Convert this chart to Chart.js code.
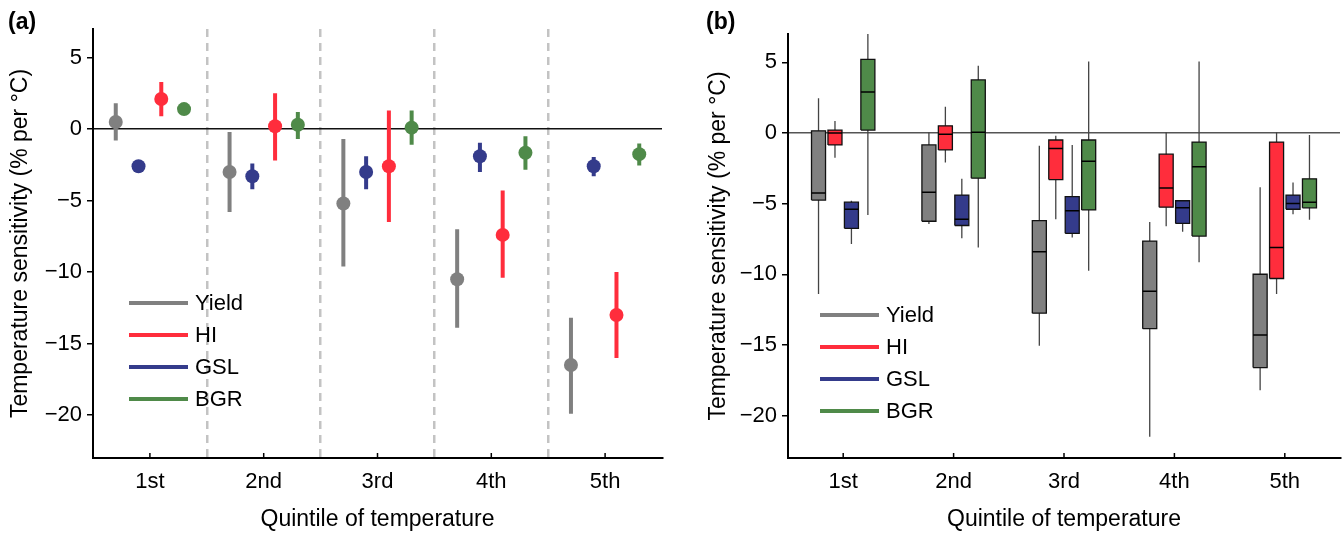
<!DOCTYPE html>
<html>
<head>
<meta charset="utf-8">
<script src="https://cdn.jsdelivr.net/npm/chart.js@4"></script>
<style>
  body { margin: 0; background: #fff; font-family: "Liberation Sans", Arial, sans-serif; }
  #wrap { position: relative; width: 1344px; height: 534px; }
  .pane { position: absolute; top: 0; width: 672px; height: 534px; }
  .tag { position: absolute; top: 8px; font-weight: bold; font-size: 23px; }
  .leg { position: absolute; font-size: 22px; }
  .leg .row { position: relative; height: 32px; }
  .leg .ln { position: absolute; left: 0; top: 14px; width: 59px; height: 4px; }
  .leg .tx { position: absolute; left: 66px; top: 2px; line-height: 28px; }
</style>
</head>
<body>
<div id="wrap">
  <div class="pane" style="left:0"><canvas id="chart-a"></canvas></div>
  <div class="pane" style="left:672px"><canvas id="chart-b"></canvas></div>
  <div class="tag" style="left:8px">(a)</div>
  <div class="tag" style="left:706px">(b)</div>
  <div class="leg" id="leg-a" style="left:129px;top:287px"></div>
  <div class="leg" id="leg-b" style="left:820px;top:299px"></div>
</div>
<script>
/* ── data ── */
var cats = ['1st', '2nd', '3rd', '4th', '5th'];
var series = ['Yield', 'HI', 'GSL', 'BGR'];
var yTicks = [-20, -15, -10, -5, 0, 5];

// (a) mean sensitivity and error bar ends
var yieldMean = [0.5, -3.0, -5.2, -10.5, -16.5];
var yieldLo   = [-0.8, -5.8, -9.6, -13.9, -19.9];
var yieldHi   = [1.8, -0.2, -0.7, -7.0, -13.2];
var hiMean = [2.1, 0.2, -2.6, -7.4, -13.0];
var hiLo   = [0.9, -2.2, -6.5, -10.4, -16.0];
var hiHi   = [3.3, 2.5, 1.3, -4.3, -10.0];
var gslMean = [-2.6, -3.3, -3.0, -1.9, -2.6];
var gslLo   = [-2.8, -4.2, -4.2, -3.0, -3.3];
var gslHi   = [-2.4, -2.4, -1.9, -0.95, -1.95];
var bgrMean = [1.4, 0.3, 0.1, -1.65, -1.75];
var bgrLo   = [1.1, -0.7, -1.1, -2.85, -2.55];
var bgrHi   = [1.7, 1.2, 1.3, -0.5, -1.0];

// (b) box plots: whisker min, lower quartile, median, upper quartile, whisker max
var yieldMin = [-11.4, -6.45, -15.05, -21.5, -18.2];
var yieldQ1  = [-4.75, -6.25, -12.75, -13.85, -16.6];
var yieldMed = [-4.25, -4.2, -8.4, -11.2, -14.3];
var yieldQ3  = [0.15, -0.85, -6.2, -7.65, -10.0];
var yieldMax = [2.45, 0.05, -0.9, -6.3, -3.85];

var hiMin = [-1.75, -2.1, -6.1, -6.6, -11.4];
var hiQ1  = [-0.85, -1.2, -3.3, -5.25, -10.3];
var hiMed = [0.0, -0.1, -1.1, -3.9, -8.1];
var hiQ3  = [0.2, 0.5, -0.5, -1.5, -0.65];
var hiMax = [0.85, 1.85, -0.2, 0.05, 0.05];

var gslMin = [-7.85, -7.45, -7.4, -7.0, -5.75];
var gslQ1  = [-6.75, -6.55, -7.1, -6.4, -5.4];
var gslMed = [-5.4, -6.1, -5.5, -5.3, -5.0];
var gslQ3  = [-4.9, -4.4, -4.5, -4.8, -4.4];
var gslMax = [-4.8, -3.25, -0.85, -4.75, -3.5];

var bgrMin = [-5.8, -8.1, -9.75, -9.15, -6.15];
var bgrQ1  = [0.2, -3.2, -5.45, -7.3, -5.3];
var bgrMed = [2.9, 0.05, -2.0, -2.4, -4.9];
var bgrQ3  = [5.2, 3.75, -0.5, -0.65, -3.25];
var bgrMax = [7.0, 4.75, 5.05, 5.05, -0.15];

/* ── styling ── */
var colors = { Yield: '#808080', HI: '#ff2d3c', GSL: '#343b8b', BGR: '#4f8a49' };
var offA = { Yield: -0.3, GSL: -0.1, HI: 0.1, BGR: 0.3 };
var slot = 0.149;              // distance between neighbouring boxes (category units)
var boxW = 0.127;              // box width (category units)
var offB = { Yield: -1.5 * slot, HI: -0.5 * slot, GSL: 0.5 * slot, BGR: 1.5 * slot };
var halfBox = boxW / 2;

var A = {
  Yield: { mean: yieldMean, lo: yieldLo, hi: yieldHi },
  HI:    { mean: hiMean, lo: hiLo, hi: hiHi },
  GSL:   { mean: gslMean, lo: gslLo, hi: gslHi },
  BGR:   { mean: bgrMean, lo: bgrLo, hi: bgrHi }
};
var B = {
  Yield: { min: yieldMin, q1: yieldQ1, med: yieldMed, q3: yieldQ3, max: yieldMax },
  HI:    { min: hiMin, q1: hiQ1, med: hiMed, q3: hiQ3, max: hiMax },
  GSL:   { min: gslMin, q1: gslQ1, med: gslMed, q3: gslQ3, max: gslMax },
  BGR:   { min: bgrMin, q1: bgrQ1, med: bgrMed, q3: bgrQ3, max: bgrMax }
};

var font22 = { family: '"Liberation Sans", Arial, sans-serif', size: 22 };
var font23 = { family: '"Liberation Sans", Arial, sans-serif', size: 23 };

function minus(v) { return String(v).replace('-', '\u2212'); }

// vertical segments separated by gaps
function segments(lo, hi, off) {
  var pts = [];
  lo.forEach(function (v, i) {
    pts.push({ x: i + off, y: v }, { x: i + off, y: hi[i] }, { x: i + off, y: null });
  });
  return pts;
}
function medians(med, off) {
  var pts = [];
  med.forEach(function (v, i) {
    pts.push({ x: i + off - halfBox, y: v }, { x: i + off + halfBox, y: v }, { x: i + off, y: null });
  });
  return pts;
}
function outlines(q1, q3, off) {
  var pts = [];
  q1.forEach(function (v, i) {
    var l = i + off - halfBox, r = i + off + halfBox;
    pts.push({ x: l, y: v }, { x: r, y: v }, { x: r, y: q3[i] }, { x: l, y: q3[i] }, { x: l, y: v }, { x: l, y: null });
  });
  return pts;
}
function boxPx(c) {
  var s = c.chart.scales.x;
  return Math.abs(s.getPixelForValue(boxW) - s.getPixelForValue(0)) || 1;
}

// small inward ticks on the x axis
var innerTicks = {
  id: 'innerTicks',
  afterDraw: function (chart) {
    var s = chart.scales.x, ctx = chart.ctx, b = chart.chartArea.bottom;
    ctx.save();
    ctx.strokeStyle = '#000';
    ctx.lineWidth = 1.5;
    cats.forEach(function (c, i) {
      var x = s.getPixelForValue(i);
      ctx.beginPath(); ctx.moveTo(x, b); ctx.lineTo(x, b - 5); ctx.stroke();
    });
    ctx.restore();
  }
};

function yScale(width, titlePad, zeroColor) {
  return {
    min: -23, max: 7,
    afterBuildTicks: function (s) { s.ticks = yTicks.map(function (v) { return { value: v }; }); },
    afterFit: function (s) { s.width = width; },
    ticks: { font: font22, color: '#000', padding: 5, callback: minus },
    grid: {
      color: function (c) { return c.tick && c.tick.value === 0 ? zeroColor : 'rgba(0,0,0,0)'; },
      lineWidth: 1.5, tickLength: 6, tickColor: '#000', tickWidth: 1.5
    },
    border: { color: '#000', width: 2 },
    title: { display: true, text: 'Temperature sensitivity (% per \u00b0C)', font: font23, color: '#000', padding: { top: titlePad, bottom: 0 } }
  };
}
function xScale(separators) {
  return {
    type: 'linear', min: -0.5, max: 4.5,
    afterBuildTicks: function (s) {
      var t = [];
      for (var v = -0.5; v <= 4.5; v += 0.5) t.push({ value: v });
      s.ticks = t;
    },
    afterFit: function (s) { s.height = 76; s.paddingLeft = 0; s.paddingRight = 0; },
    ticks: {
      autoSkip: false, maxRotation: 0, font: font22, color: '#000', padding: 11,
      callback: function (v) { return Number.isInteger(v) ? cats[v] : ''; }
    },
    grid: {
      display: separators, drawTicks: false, lineWidth: 2.5,
      color: function (c) {
        var v = c.tick ? c.tick.value : 0;
        return (v % 1 !== 0 && v > -0.5 && v < 4.5) ? '#c3c3c3' : 'rgba(0,0,0,0)';
      }
    },
    border: { color: '#000', width: 2, dash: [8, 6] },
    title: { display: true, text: 'Quintile of temperature', font: font23, color: '#000', padding: { top: 0, bottom: 1 } }
  };
}
function baseOptions(pad, yS, sep) {
  return {
    responsive: true, maintainAspectRatio: false, animation: false,
    layout: { padding: pad },
    plugins: { legend: { display: false }, tooltip: { enabled: false } },
    scales: { x: xScale(sep), y: yS }
  };
}

/* ── (a) means with error bars ── */
var dsA = [];
series.forEach(function (name) {
  var d = A[name], off = offA[name];
  dsA.push({
    type: 'line', data: segments(d.lo, d.hi, off), borderColor: colors[name],
    borderWidth: 4, pointRadius: 0, spanGaps: false, order: 2
  });
  dsA.push({
    type: 'scatter', data: d.mean.map(function (v, i) { return { x: i + off, y: v }; }),
    backgroundColor: colors[name], borderWidth: 0, pointRadius: 7, pointHoverRadius: 7, order: 1
  });
});

new Chart(document.getElementById('chart-a'), {
  type: 'scatter',
  data: { datasets: dsA },
  options: baseOptions({ top: 29, right: 10, left: 0, bottom: 0 }, yScale(93, 7, '#111'), true),
  plugins: [innerTicks]
});

/* ── (b) box plots ── */
var dsB = [];
series.forEach(function (name) {
  var d = B[name], off = offB[name];
  // whisker
  dsB.push({
    type: 'line', data: segments(d.min, d.max, off),
    borderColor: '#444', borderWidth: 1.3, pointRadius: 0, spanGaps: false, order: 4
  });
  // box body: a butt-capped stroke as wide as the box
  dsB.push({
    type: 'line', data: segments(d.q1, d.q3, off),
    borderColor: colors[name], borderWidth: boxPx, borderCapStyle: 'butt',
    pointRadius: 0, spanGaps: false, order: 3
  });
  // box outline
  dsB.push({
    type: 'line', data: outlines(d.q1, d.q3, off),
    borderColor: '#111', borderWidth: 1.3, borderJoinStyle: 'miter',
    pointRadius: 0, spanGaps: false, order: 2
  });
  // median
  dsB.push({
    type: 'line', data: medians(d.med, off),
    borderColor: '#000', borderWidth: 1.5, pointRadius: 0, spanGaps: false, order: 1
  });
});

new Chart(document.getElementById('chart-b'), {
  type: 'scatter',
  data: { datasets: dsB },
  options: baseOptions({ top: 34, right: 4, left: 0, bottom: 0 }, yScale(116, 33, '#555'), false),
  plugins: [innerTicks]
});

/* ── legends ── */
['leg-a', 'leg-b'].forEach(function (id) {
  document.getElementById(id).innerHTML = series.map(function (name) {
    return '<div class="row"><span class="ln" style="background:' + colors[name] + '"></span>' +
      '<span class="tx">' + name + '</span></div>';
  }).join('');
});
</script>
</body>
</html>
